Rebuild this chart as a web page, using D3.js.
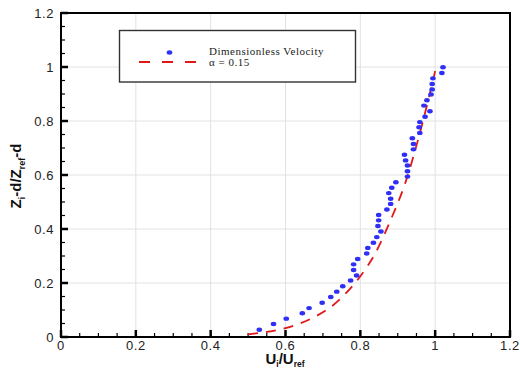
<!DOCTYPE html>
<html lang="en">
<head>
<meta charset="UTF-8">
<title>Dimensionless velocity profile</title>
<script src="https://d3js.org/d3.v7.min.js"></script>
<style>
    body { margin: 0; background: #fff; }
    svg { display: block; }
    .tick-label { font-family: "Liberation Sans", Arial, sans-serif; font-size: 13px; fill: #222; letter-spacing: 0.6px; }
    .axis-title { font-family: "Liberation Sans", Arial, sans-serif; font-weight: bold; fill: #111; }
    .legend-text { font-family: "Liberation Serif", "Times New Roman", serif; font-size: 11px; fill: #222; letter-spacing: 0.5px; }
</style>
</head>
<body>
<script>
    const velocity = [0.530, 0.568, 0.602, 0.645, 0.663, 0.698, 0.721, 0.737, 0.753, 0.774,
                      0.790, 0.782, 0.782, 0.793, 0.817, 0.820, 0.835, 0.844, 0.855, 0.847,
                      0.849, 0.849, 0.871, 0.881, 0.881, 0.876, 0.884, 0.895, 0.926, 0.926,
                      0.926, 0.921, 0.918, 0.942, 0.942, 0.939, 0.959, 0.957, 0.959, 0.973,
                      0.986, 0.970, 0.978, 0.989, 0.992, 0.992, 0.994, 1.018, 1.021];
    const height = [0.027, 0.048, 0.068, 0.088, 0.107, 0.127, 0.148, 0.168, 0.188, 0.209,
                    0.228, 0.248, 0.269, 0.289, 0.309, 0.330, 0.349, 0.370, 0.391, 0.411,
                    0.432, 0.452, 0.472, 0.493, 0.512, 0.533, 0.553, 0.573, 0.594, 0.614,
                    0.635, 0.654, 0.675, 0.695, 0.715, 0.736, 0.756, 0.777, 0.796, 0.816,
                    0.836, 0.857, 0.877, 0.898, 0.917, 0.937, 0.958, 0.978, 0.999];

    // alpha = 0.15 profile
    const curveU = [0.50, 0.53, 0.56, 0.60, 0.64, 0.68, 0.72, 0.76, 0.80, 0.84, 0.88, 0.92, 0.96, 1.00];
    const curveZ = [0.010, 0.015, 0.021, 0.033, 0.051, 0.076, 0.11, 0.16, 0.225, 0.31, 0.43, 0.57, 0.76, 0.985];

    const tickValues = [0, 0.2, 0.4, 0.6, 0.8, 1, 1.2];
    const tickLabels = ["0", "0.2", "0.4", "0.6", "0.8", "1", "1.2"];
    const minorTicks = d3.range(0, 1.2001, 0.05);

    const W = 520, H = 369;
    const pL = 61, pR = 510, pT = 13, pB = 337;

    const svg = d3.select("body").append("svg")
        .attr("width", W).attr("height", H);

    const x = d3.scaleLinear().domain([0, 1.2]).range([pL, pR]);
    const y = d3.scaleLinear().domain([0, 1.2]).range([pB, pT]);

    // grid
    const grid = svg.append("g");
    grid.selectAll("line.gx").data(tickValues.slice(1, -1)).enter().append("line")
        .attr("x1", d => x(d)).attr("x2", d => x(d))
        .attr("y1", pT).attr("y2", pB)
        .attr("stroke", "#e2e2e2").attr("stroke-width", 1);
    grid.selectAll("line.gy").data(tickValues.slice(1, -1)).enter().append("line")
        .attr("y1", d => y(d)).attr("y2", d => y(d))
        .attr("x1", pL).attr("x2", pR)
        .attr("stroke", "#e2e2e2").attr("stroke-width", 1);

    // ticks (inward, left + bottom only)
    const ticks = svg.append("g").attr("stroke", "#000");
    ticks.selectAll("line.mx").data(minorTicks).enter().append("line")
        .attr("x1", d => x(d)).attr("x2", d => x(d))
        .attr("y1", pB).attr("y2", pB - 4)
        .attr("stroke-width", 1.2);
    ticks.selectAll("line.my").data(minorTicks).enter().append("line")
        .attr("y1", d => y(d)).attr("y2", d => y(d))
        .attr("x1", pL).attr("x2", pL + 4)
        .attr("stroke-width", 1.2);
    ticks.selectAll("line.Mx").data(tickValues).enter().append("line")
        .attr("x1", d => x(d)).attr("x2", d => x(d))
        .attr("y1", pB).attr("y2", pB - 7)
        .attr("stroke-width", 2.5);
    ticks.selectAll("line.My").data(tickValues).enter().append("line")
        .attr("y1", d => y(d)).attr("y2", d => y(d))
        .attr("x1", pL).attr("x2", pL + 7)
        .attr("stroke-width", 2.5);

    // frame
    svg.append("rect")
        .attr("x", pL).attr("y", pT)
        .attr("width", pR - pL).attr("height", pB - pT)
        .attr("fill", "none").attr("stroke", "#000").attr("stroke-width", 2);

    // tick labels
    svg.selectAll("text.xl").data(tickValues).enter().append("text")
        .attr("class", "tick-label")
        .attr("x", d => x(d)).attr("y", 349.5)
        .attr("text-anchor", "middle")
        .text((d, i) => tickLabels[i]);
    svg.selectAll("text.yl").data(tickValues).enter().append("text")
        .attr("class", "tick-label")
        .attr("x", 54).attr("y", d => y(d) + 4.5)
        .attr("text-anchor", "end")
        .text((d, i) => tickLabels[i]);

    // axis titles
    const xt = svg.append("text").attr("class", "axis-title")
        .attr("x", 285).attr("y", 364).attr("text-anchor", "middle")
        .style("font-size", "15px");
    xt.append("tspan").text("U");
    xt.append("tspan").text("i").attr("dy", 3).style("font-size", "8.5px");
    xt.append("tspan").text("/U").attr("dy", -3);
    xt.append("tspan").text("ref").attr("dy", 3).style("font-size", "8.5px");

    const yt = svg.append("text").attr("class", "axis-title")
        .attr("transform", "translate(21,176) rotate(-90)")
        .attr("text-anchor", "middle")
        .style("font-size", "15px");
    yt.append("tspan").text("Z");
    yt.append("tspan").text("i").attr("dy", 4).style("font-size", "9px");
    yt.append("tspan").text("-d/Z").attr("dy", -4);
    yt.append("tspan").text("ref").attr("dy", 4).style("font-size", "9px");
    yt.append("tspan").text("-d").attr("dy", -4);

    // dashed alpha curve
    const line = d3.line()
        .x((d, i) => x(curveU[i]))
        .y((d, i) => y(curveZ[i]))
        .curve(d3.curveMonotoneX);
    svg.append("path")
        .datum(curveU)
        .attr("d", line)
        .attr("fill", "none")
        .attr("stroke", "#e01818")
        .attr("stroke-width", 1.8)
        .attr("stroke-dasharray", "10,8");

    // measured points
    svg.selectAll("ellipse.pt").data(velocity).enter().append("ellipse")
        .attr("cx", d => x(d))
        .attr("cy", (d, i) => y(height[i]))
        .attr("rx", 2.8).attr("ry", 2.2)
        .attr("fill", "#2f2ff5");

    // legend
    const lg = svg.append("g");
    lg.append("rect")
        .attr("x", 119.5).attr("y", 30.5).attr("width", 236).attr("height", 51.5)
        .attr("fill", "#fff").attr("stroke", "#333").attr("stroke-width", 1.4);
    lg.append("ellipse")
        .attr("cx", 169.5).attr("cy", 52.5).attr("rx", 2.8).attr("ry", 2.2)
        .attr("fill", "#2f2ff5");
    lg.append("line")
        .attr("x1", 139).attr("x2", 197).attr("y1", 62).attr("y2", 62)
        .attr("stroke", "#e01818").attr("stroke-width", 1.8)
        .attr("stroke-dasharray", "11,12");
    lg.append("text").attr("class", "legend-text")
        .attr("x", 209).attr("y", 55).text("Dimensionless Velocity");
    lg.append("text").attr("class", "legend-text")
        .attr("x", 209).attr("y", 65.5).text("α = 0.15");
</script>
</body>
</html>
